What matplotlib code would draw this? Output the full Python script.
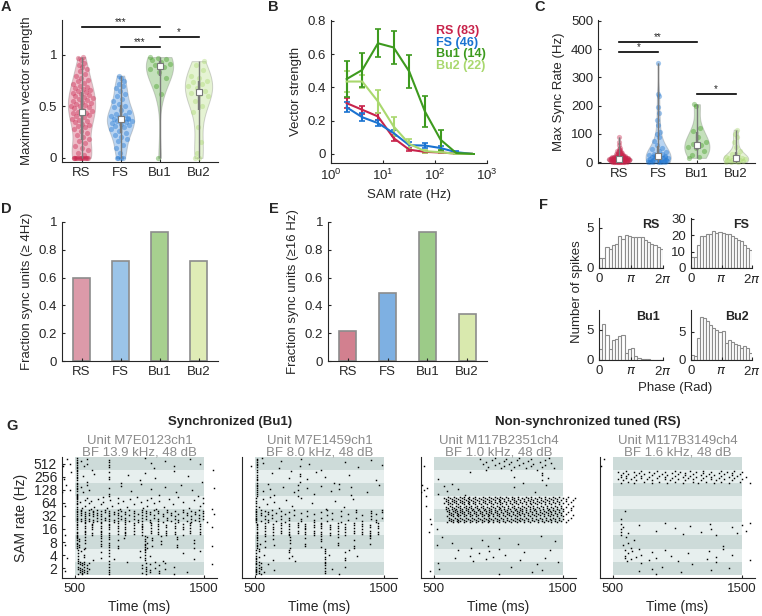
import numpy as np
import matplotlib
matplotlib.use("Agg")
import matplotlib.pyplot as plt
from matplotlib.mlab import GaussianKDE

plt.rcParams['font.family'] = ['Liberation Sans', 'DejaVu Sans']
plt.rcParams['font.size'] = 9
plt.rcParams['text.color'] = '#262626'
plt.rcParams['axes.labelcolor'] = '#262626'
plt.rcParams['axes.edgecolor'] = '#262626'
plt.rcParams['xtick.color'] = '#262626'
plt.rcParams['ytick.color'] = '#262626'
plt.rcParams['axes.linewidth'] = 0.8

groups = ['RS', 'FS', 'Bu1', 'Bu2']
n_units = [83, 46, 14, 22]
line_colors = ['#c8234b', '#1a73d1', '#3d9a1e', '#a9d86e']
bar_colors_d = ['#dc9aa9', '#9bc4e8', '#a7d08f', '#dfecb6']
bar_colors_e = ['#d2808f', '#7eb0e2', '#9ccb88', '#d9e9ae']

# A: maximum vector strength per unit
vs_rs = [0, 0, 0, 0, 0, 0, 0, 0, 0, 0, 0, 0, 0, 0,
         0.03, 0.05, 0.08, 0.1, 0.12, 0.14, 0.16, 0.18, 0.2, 0.22, 0.24, 0.26, 0.28, 0.3,
         0.31, 0.32, 0.33, 0.35, 0.36, 0.37, 0.38, 0.4, 0.41, 0.42, 0.43, 0.44, 0.44, 0.45,
         0.46, 0.47, 0.48, 0.49, 0.5, 0.5, 0.51, 0.52, 0.53, 0.54, 0.55, 0.56, 0.57, 0.58,
         0.59, 0.6, 0.61, 0.62, 0.63, 0.64, 0.65, 0.66, 0.67, 0.68, 0.69, 0.7, 0.72, 0.73,
         0.75, 0.76, 0.78, 0.8, 0.82, 0.84, 0.86, 0.88, 0.9, 0.92, 0.95, 0.97, 0.98]
vs_fs = [0, 0, 0, 0, 0.05, 0.1, 0.13, 0.16, 0.18, 0.2, 0.22, 0.24, 0.26, 0.28, 0.3,
         0.31, 0.32, 0.33, 0.34, 0.35, 0.36, 0.36, 0.37, 0.38, 0.39, 0.4, 0.41, 0.42, 0.43,
         0.45, 0.47, 0.49, 0.5, 0.52, 0.55, 0.57, 0.6, 0.62, 0.65, 0.68, 0.7, 0.72, 0.75,
         0.78, 0.8, 0.38]
vs_bu1 = [0.0, 0.62, 0.7, 0.78, 0.83, 0.86, 0.88, 0.9, 0.91, 0.93, 0.95, 0.96, 0.97, 0.98]
vs_bu2 = [0.0, 0.0, 0.05, 0.15, 0.3, 0.45, 0.5, 0.55, 0.6, 0.62, 0.63, 0.65, 0.68, 0.7,
          0.72, 0.74, 0.75, 0.78, 0.8, 0.85, 0.9, 0.94]

# B: vector strength vs SAM rate (mean, sem)
sam_rates = [2, 4, 8, 16, 32, 64, 128, 256, 512]
vs_mean = {
    'RS': [0.305, 0.265, 0.225, 0.095, 0.025, 0.012, 0.008, 0.002, 0.0],
    'FS': [0.28, 0.22, 0.185, 0.125, 0.052, 0.05, 0.035, 0.01, 0.0],
    'Bu2': [0.435, 0.435, 0.315, 0.165, 0.06, 0.016, 0.01, 0.0, 0.0],
    'Bu1': [0.45, 0.505, 0.665, 0.64, 0.495, 0.255, 0.085, 0.005, 0.0],
}
vs_sem = {
    'RS': [0.03, 0.025, 0.02, 0.02, 0.01, 0.008, 0.005, 0.0, 0.0],
    'FS': [0.03, 0.025, 0.02, 0.02, 0.02, 0.015, 0.015, 0.005, 0.0],
    'Bu2': [0.065, 0.04, 0.07, 0.055, 0.03, 0.01, 0.005, 0.0, 0.0],
    'Bu1': [0.11, 0.10, 0.085, 0.10, 0.10, 0.095, 0.06, 0.0, 0.0],
}

# C: max sync rate per unit (Hz)
sync_rs = [0, 0, 0, 0, 0, 0, 0, 0, 2, 2, 2, 2, 2, 4, 4, 4, 4, 4, 4,
           5, 6, 6, 7, 8, 8, 8, 8, 9, 10, 10, 10, 10, 11, 12, 12, 12, 12, 13,
           14, 14, 14, 15, 16, 16, 16, 16, 17, 18, 18, 19, 20, 20, 20, 21, 22, 23,
           24, 25, 26, 27, 28, 30, 30, 32, 33, 35, 36, 38, 40, 42, 45,
           8, 10, 12, 14, 16, 6, 11, 13, 50, 60, 70, 88]
sync_fs = [0, 0, 0, 0, 2, 2, 2, 21, 4, 4, 4, 4, 23, 6, 8, 8, 9, 10, 12, 14, 15, 16,
           18, 20, 22, 24, 25, 28, 30, 35, 40, 45, 50, 60, 75, 90, 100, 105, 130, 150,
           175, 195, 235, 240, 350, 19]
sync_bu1 = [15, 20, 25, 40, 50, 55, 60, 64, 70, 90, 110, 120, 200, 205]
sync_bu2 = [0, 0, 2, 4, 5, 6, 8, 8, 10, 12, 14, 16, 18, 20, 25, 30, 40, 55, 70, 90,
            100, 115]

# D, E: fraction of synchronized units
frac_4hz = [0.60, 0.717, 0.929, 0.72]
frac_16hz = [0.217, 0.49, 0.929, 0.34]

# F: phase histograms (20 bins over 0..2pi)
phase_rs = [1.3, 1.3, 2.6, 2.3, 2.9, 3.0, 4.0, 3.6, 4.1, 4.0, 3.8, 3.8, 3.9, 3.9,
            3.5, 3.2, 3.0, 2.8, 2.6, 2.3]
phase_fs = [6.5, 6.5, 14, 19.5, 19.5, 21, 20.5, 22.5, 21.5, 22, 21.5, 21, 20.5,
            19.5, 18, 17, 16.5, 14, 12.5, 11]
phase_bu1 = [1.8, 6.0, 4.2, 1.9, 3.3, 3.5, 4.0, 4.2, 1.2, 1.8, 2.0, 0.6, 0.3, 0.2,
             0.1, 0.1, 0.05, 0.05, 0.05, 0.05]
phase_bu2 = [0.9, 0.7, 4.0, 7.6, 7.5, 7.0, 6.2, 5.7, 5.3, 5.0, 5.2, 3.0, 3.6, 3.2,
             2.8, 2.7, 2.2, 2.5, 2.1, 1.3]

# G: rasters, one list per SAM rate row (2 Hz first); (t, n) = n trials spiking at t
raster_labels = ['2', '4', '8', '16', '32', '64', '128', '256', '512']
raster_bu1_a = [
    [420, (525, 4), (540, 5), (555, 6), (570, 5), (590, 4), (610, 2), (765, 5), 900,
     (1020, 3), (1050, 5), (1085, 3), (1120, 2), (1150, 3), (1200, 2), (1265, 2), 1370, 1560],
    [440, (520, 5), 545, (570, 3), 640, (700, 2), (765, 4), 800, (1000, 2), (1040, 6),
     1080, 1180, 1340, 1420, 1470],
    [420, (518, 8), (530, 4), (580, 4), (700, 5), (765, 5), (830, 3), 880, (1040, 6),
     (1060, 3), (1100, 3), (1170, 3), (1290, 4), (1420, 3), 1560],
    [(518, 7), (575, 6), (635, 6), (700, 6), (765, 6), (830, 5), (888, 6), (955, 5),
     (1017, 6), (1090, 5), (1142, 5), (1207, 5), (1272, 5), (1337, 4), (1390, 5),
     (1467, 5), 420, 1560],
    [(515, 8), (545, 6), (580, 6), (610, 5), (640, 6), (670, 5), (700, 5), (735, 4),
     (765, 6), (800, 4), (830, 5), (860, 3), (890, 5), (920, 3), (960, 4), (990, 3),
     (1020, 5), (1050, 4), (1085, 4), (1115, 3), (1145, 4), (1180, 3), (1210, 4),
     (1240, 3), (1275, 3), (1300, 3), (1335, 3), (1365, 3), (1400, 4), (1430, 3),
     (1460, 4), (1490, 4), 1520, 1580],
    [425, (518, 8), 540, 555, (575, 2), 590, 610, (625, 2), 650, 680, 700, (720, 2), 750,
     775, 790, (830, 2), 850, 870, 900, 930, 955, 980, 1010, 1030, (1060, 2), 1090, 1110,
     1130, 1150, 1190, 1230, 1260, 1300, 1340, 1380, 1420, 1470, (1495, 2), 1560],
    [400, 430, 460, (518, 8), 545, 565, 590, 610, (765, 3), 860, 935, 1010, 1090, 1150,
     1195, 1280, 1325, 1410, 1455, 1580],
    [415, 470, (518, 7), 560, 595, 650, (765, 3), 856, 908, 1000, 1040, 1120, 1270,
     1375, 1480],
    [410, 440, 465, (518, 8), 545, 570, (590, 2), 635, (765, 4), 1040, 1090, 1115, 1195,
     1270, 1390, 1470, 1570],
]
raster_bu1_b = [
    [(512, 8), (530, 5), (545, 4), 570, 600, 650, (1040, 6), 1100, 1150, 1200],
    [(512, 6), (535, 3), 570, 640, (760, 3), 790, 810, (1040, 5), 1070, (1200, 3), 1230, 1290],
    [(515, 7), 540, (580, 3), 640, 650, (770, 4), (890, 3), (1010, 4), (1140, 3),
     (1270, 3), (1390, 3)],
    [(515, 7), (580, 5), (640, 5), (700, 5), (765, 6), (830, 5), (890, 6), (955, 5),
     (1015, 6), (1080, 5), (1140, 5), (1200, 5), (1265, 5), (1330, 5), (1390, 5), (1455, 5)],
    [(512, 8), (545, 4), (575, 3), (605, 4), (635, 3), (665, 2), (700, 3), (730, 2),
     (760, 3), (800, 2), (860, 3), (900, 2), (960, 3), (1010, 2), (1060, 3), (1100, 2),
     (1170, 3), (1220, 2), (1280, 3), (1330, 2), (1400, 4), (1440, 3), (1480, 3)],
    [(512, 5), 535, 560, 590, 620, 650, 690, 740, 790, 860, 940, 1050, 1120, 1190, 1260],
    [(515, 7), 560, 600, 615, 650, 720, 800, (830, 3), 900, 960, 1010, 1090, (1150, 2),
     (1240, 2), 1370, 1460],
    [(515, 6), 630, 760, 780, (850, 3), 900, 970, 1040, 1110, 1230, 1440],
    [470, (515, 7), 555, 560, 690, 700, 850, 860, 920, 1010, 1200, 1300, 1400, 1480],
]
raster_rs_a = [
    [470, 530, 540, 1000, 1100, 1260, 1300, 1340, 1460],
    [660, 690, 780, 800, 850, 900, 930, 960, 1000, 1050, 1170, 1200, 1360, 1400],
    [520, 560, 640, 790, 870, 920, 1000, 1150, 1330, 1440],
    [460, 480, 520],
    [470, (600, 3), (615, 5), (630, 4), (645, 5), (660, 3), (675, 5), (690, 4), (705, 5),
     (720, 3), (735, 5), (750, 4), (765, 3), (780, 5), (795, 4), (810, 3), (825, 5),
     (840, 4), (855, 3), (870, 5), (885, 4), (900, 3), (915, 4), (930, 5), (945, 3),
     (960, 4), (975, 3), (990, 5), (1005, 4), (1020, 3), (1035, 4), (1050, 3), (1065, 5),
     (1080, 3), (1095, 4), (1110, 3), (1125, 4), (1140, 5), (1155, 3), (1170, 4),
     (1185, 3), (1200, 4), (1215, 3), (1230, 4), (1245, 3), (1260, 4), (1275, 3),
     (1290, 4), (1305, 3), (1320, 4), (1335, 3), (1350, 4), (1365, 3), (1380, 4),
     (1395, 3), (1410, 4), (1425, 3), (1440, 4), (1455, 3), (1470, 4), (1485, 3),
     (1500, 3), (1520, 2), (1540, 2), (1560, 2), (1580, 1)],
    [440, (580, 2), (595, 4), (610, 5), (625, 3), (640, 5), (655, 4), (670, 5), (685, 3),
     (700, 5), (715, 4), (730, 5), (745, 3), (760, 4), (775, 5), (790, 3), (805, 4),
     (820, 5), (835, 3), (850, 4), (865, 3), (880, 5), (895, 4), (910, 3), (925, 4),
     (940, 5), (955, 3), (970, 4), (985, 3), (1000, 4), (1015, 5), (1030, 3), (1045, 4),
     (1060, 3), (1075, 4), (1090, 3), (1105, 4), (1120, 5), (1135, 3), (1150, 4),
     (1165, 3), (1180, 4), (1195, 3), (1210, 4), (1225, 3), (1240, 4), (1255, 3),
     (1270, 4), (1285, 3), (1300, 4), (1315, 3), (1330, 4), (1345, 3), (1360, 4),
     (1375, 3), (1390, 4), (1405, 3), (1420, 4), (1435, 3), (1450, 4), (1465, 3),
     (1480, 3), (1500, 3), (1520, 3), (1540, 2), (1560, 2), (1580, 2), (1595, 1)],
    [400, 410, 425, 440, 450, 530, 580, 600, 640, 690, 740, 1120, 1280, 1370],
    [530, 780, 1120, 1190, (1340, 3), 1380],
    [420, 860, 880, (900, 2), 920, 950, (970, 2), 1000, 1020, (1040, 2), 1060, 1080,
     (1100, 2), 1120, 1140, (1160, 2), 1190, 1210, 1230, (1250, 2), 1270, 1300, 1320,
     1340, (1360, 2), 1390, 1410, 1430],
]
raster_rs_b = [
    [700, 720, 800, 830, 880, 1030, 1110, 1260, 1300, 1400],
    [(590, 3), 610, 620, 640, 650, 680, 700, 720, 780, 800, 830, 900, 950, 1000, 1080,
     1230, 1240, 1300, 1350, 1420, 1560],
    [580, 600, 620, 640, 660, 1350],
    [(560, 4), 580, 620, 700, 830, 900, 980, 1040, 1100, 1180, 1250, 1260, 1300, 1420,
     1460, 1500, 1530, 1560],
    [560, 590],
    [],
    [],
    [(540, 2), (560, 3), (580, 2), (600, 3), (620, 2), 640, (660, 3), (680, 2), 700,
     (720, 3), (740, 2), 760, (780, 2), (800, 3), 820, (840, 2), (860, 2), 880, (900, 3),
     (920, 2), 940, (960, 2), (980, 3), (1000, 2), 1020, (1040, 2), (1060, 3), 1080,
     (1100, 2), (1120, 3), (1140, 2), 1160, (1180, 2), (1200, 3), (1220, 2), 1240,
     (1260, 3), (1280, 2), 1300, (1320, 2), (1340, 3), (1360, 2), 1380, (1400, 2),
     (1420, 3), (1440, 2), 1460, (1480, 2), (1500, 2), 1530, 1560],
    [410, 430],
]
raster_titles = [('Unit M7E0123ch1', 'BF 13.9 kHz, 48 dB'),
                 ('Unit M7E1459ch1', 'BF 8.0 kHz, 48 dB'),
                 ('Unit M117B2351ch4', 'BF 1.0 kHz, 48 dB'),
                 ('Unit M117B3149ch4', 'BF 1.6 kHz, 48 dB')]


def px_axes(fig, x0, y0, x1, y1):
	W, H = 762.0, 616.0
	return fig.add_axes([x0 / W, 1 - y1 / H, (x1 - x0) / W, (y1 - y0) / H])


def style_axes(ax):
	ax.spines['top'].set_visible(False)
	ax.spines['right'].set_visible(False)
	ax.tick_params(direction='in', length=2.5, width=0.8, labelsize=9.5)


def draw_violins(ax, data_list, colors, width):
	for i, (vals, col) in enumerate(zip(data_list, colors)):
		pos = i + 1
		vals = np.asarray(vals, float)
		parts = ax.violinplot([vals], positions=[pos], widths=width, showextrema=False)
		body = parts['bodies'][0]
		body.set_facecolor(col)
		body.set_alpha(0.3)
		body.set_edgecolor('#6f6f6f')
		body.set_linewidth(0.7)
		kde = GaussianKDE(vals, 'scott')
		grid = np.linspace(vals.min(), vals.max(), 200)
		dmax = kde.evaluate(grid).max()
		dens = kde.evaluate(vals)
		frac = ((np.arange(len(vals)) * 0.618) % 1) * 2 - 1
		xs = pos + frac * dens / dmax * width / 2 * 0.85
		ax.scatter(xs, vals, s=14, color=col, alpha=0.4, lw=0, zorder=3, clip_on=False)
		q1, med, q3 = np.percentile(vals, [25, 50, 75])
		ax.vlines(pos, vals.min(), vals.max(), color='#7a7a7a', lw=1, zorder=4)
		ax.vlines(pos, q1, q3, color='#7a7a7a', lw=1.7, zorder=4)
		ax.plot(pos, med, 's', mfc='white', mec='#7a7a7a', mew=0.8, ms=4.2, zorder=5)


def draw_sig(ax, x1, x2, y, stars):
	ax.plot([x1, x2], [y, y], color='k', lw=1.2, clip_on=False)
	ax.text((x1 + x2) / 2, y, stars, ha='center', va='bottom', fontsize=7)


def draw_raster(ax, rows, title, show_y):
	ntr = 12
	for r in range(len(rows)):
		shade = '#cddbd9' if r % 2 == 0 else '#e7efee'
		ax.barh(r, 1000, left=500, height=1.0, color=shade, lw=0, zorder=1)
	for r, row in enumerate(rows):
		ts, ys = [], []
		c = 0
		for item in row:
			t, n = (item, 1) if not isinstance(item, tuple) else item
			for k in range(n):
				tr = (c * 7 + 3) % ntr
				ts.append(t)
				ys.append(r - 0.5 + (tr + 0.5) / ntr)
				c += 1
		ax.plot(ts, ys, 's', color='k', ms=1.05, mew=0, zorder=3)
	ax.set_xlim(400, 1600)
	ax.set_ylim(-0.75, 8.5)
	ax.set_xticks([500, 1500])
	ax.set_xlabel('Time (ms)', fontsize=10)
	style_axes(ax)
	if show_y:
		ax.set_yticks(range(9))
		ax.set_yticklabels(raster_labels, fontsize=10)
		ax.set_ylabel('SAM rate (Hz)', fontsize=10)
	else:
		ax.set_yticks([])
	ax.tick_params(axis='x', labelsize=9.5)
	ax.text(0.5, 1.135, title[0], transform=ax.transAxes, ha='center', va='center',
	        color='#8a8a8a', fontsize=9.5)
	ax.text(0.5, 1.035, title[1], transform=ax.transAxes, ha='center', va='center',
	        color='#8a8a8a', fontsize=9.5)


fig = plt.figure(figsize=(7.62, 6.16), dpi=100)
xcat = np.arange(1, 5)

# A
ax = px_axes(fig, 62, 20, 218, 162)
draw_violins(ax, [vs_rs, vs_fs, vs_bu1, vs_bu2], line_colors, 0.7)
draw_sig(ax, 1, 3, 1.27, '***')
draw_sig(ax, 2, 3, 1.075, '***')
draw_sig(ax, 3, 4, 1.17, '*')
ax.set_xlim(0.5, 4.5)
ax.set_ylim(-0.04, 1.34)
ax.set_yticks([0, 0.5, 1])
ax.set_yticklabels(['0', '0.5', '1'])
ax.set_xticks(xcat)
ax.set_xticklabels(groups)
ax.set_ylabel('Maximum vector strength', fontsize=9.5)
style_axes(ax)

# B
ax = px_axes(fig, 331, 20, 487, 163)
for g in ['RS', 'FS', 'Bu2', 'Bu1']:
	c = line_colors[groups.index(g)]
	ax.errorbar(sam_rates, vs_mean[g], yerr=vs_sem[g], color=c, lw=1.5, elinewidth=1.5,
	            capsize=2.5, capthick=1.2)
ax.set_xscale('log')
ax.set_xlim(1, 1000)
ax.set_ylim(-0.055, 0.805)
ax.set_xticks([1, 10, 100, 1000])
ax.minorticks_off()
ax.set_yticks([0, 0.2, 0.4, 0.6, 0.8])
ax.set_yticklabels(['0', '0.2', '0.4', '0.6', '0.8'])
ax.set_xlabel('SAM rate (Hz)', fontsize=9.5)
ax.set_ylabel('Vector strength', fontsize=9.5)
style_axes(ax)
for i, g in enumerate(groups):
	ax.text(0.67, 0.923 - i * 0.082, '%s (%d)' % (g, n_units[i]), transform=ax.transAxes,
	        color=line_colors[i], fontweight='bold', fontsize=9, va='center')

# C
ax = px_axes(fig, 598, 20, 755, 163)
draw_violins(ax, [sync_rs, sync_fs, sync_bu1, sync_bu2], line_colors, 0.65)
draw_sig(ax, 1, 2, 391, '*')
draw_sig(ax, 1, 3, 424, '**')
draw_sig(ax, 3, 4, 240, '*')
ax.set_xlim(0.45, 4.5)
ax.set_ylim(-3, 503)
ax.set_yticks([0, 100, 200, 300, 400, 500])
ax.set_xticks(xcat)
ax.set_xticklabels(groups)
ax.set_ylabel('Max Sync Rate (Hz)', fontsize=9.5)
style_axes(ax)

# D, E
for box, vals, cols, lab in [((62, 222, 218, 361), frac_4hz, bar_colors_d, 'Fraction sync units (\u2265 4Hz)'),
                             ((328, 222, 487, 361), frac_16hz, bar_colors_e, 'Fraction sync units (\u226516 Hz)')]:
	ax = px_axes(fig, *box)
	ax.bar(xcat, vals, width=0.43, color=cols, edgecolor='#8c8c8c', lw=1.2)
	ax.set_xlim(0.5, 4.5)
	ax.set_ylim(0, 1)
	ax.set_yticks([0, 0.2, 0.4, 0.6, 0.8, 1])
	ax.set_yticklabels(['0', '0.2', '0.4', '0.6', '0.8', '1'])
	ax.set_xticks(xcat)
	ax.set_xticklabels(groups)
	ax.set_ylabel(lab, fontsize=9.5)
	style_axes(ax)

# F
edges = np.linspace(0, 2 * np.pi, 21)
f_boxes = [(599, 218, 663, 268), (691, 218, 752, 268), (599, 310, 663, 360), (691, 310, 752, 360)]
f_data = [phase_rs, phase_fs, phase_bu1, phase_bu2]
f_ylims = [(0, 6.2), (0, 30.5), (0, 8.3), (0, 8.9)]
f_yticks = [[0, 5], [0, 10, 20, 30], [0, 5], [0, 5]]
for box, counts, yl, yt, g in zip(f_boxes, f_data, f_ylims, f_yticks, groups):
	ax = px_axes(fig, *box)
	ax.bar(edges[:-1], counts, width=edges[1] - edges[0], align='edge', color='white',
	       edgecolor='#8c8c8c', lw=0.8)
	ax.set_xlim(0, 2 * np.pi)
	ax.set_ylim(*yl)
	ax.set_yticks(yt)
	ax.set_xticks([0, np.pi, 2 * np.pi])
	ax.set_xticklabels(['0', r'$\pi$', r'2$\pi$'])
	style_axes(ax)
	ax.text(0.95, 0.85, g, transform=ax.transAxes, ha='right', va='center',
	        fontweight='bold', fontsize=9)
fig.text(675 / 762, 1 - 388 / 616, 'Phase (Rad)', ha='center', va='center', fontsize=9.5)
fig.text(577 / 762, 1 - 292 / 616, 'Number of spikes', ha='center', va='center',
         rotation=90, fontsize=9.5)

# G
g_boxes = [(62, 457, 217, 578), (242, 457, 397, 578), (421, 457, 576, 578), (600, 457, 755, 578)]
g_rows = [raster_bu1_a, raster_bu1_b, raster_rs_a, raster_rs_b]
for i, (box, rows, title) in enumerate(zip(g_boxes, g_rows, raster_titles)):
	ax = px_axes(fig, *box)
	draw_raster(ax, rows, title, i == 0)
fig.text(230 / 762, 1 - 422 / 616, 'Synchronized (Bu1)', ha='center', va='center',
         fontweight='bold', fontsize=9.5)
fig.text(588 / 762, 1 - 422 / 616, 'Non-synchronized tuned (RS)', ha='center', va='center',
         fontweight='bold', fontsize=9.5)

for lab, x, y in [('A', 6, 7), ('B', 273, 7), ('C', 540, 7), ('D', 6, 209), ('E', 274, 209),
                  ('F', 543, 205), ('G', 12, 426)]:
	fig.text(x / 762, 1 - y / 616, lab, ha='center', va='center', fontweight='bold', fontsize=10.5)

fig.savefig('out.png', dpi=100)
